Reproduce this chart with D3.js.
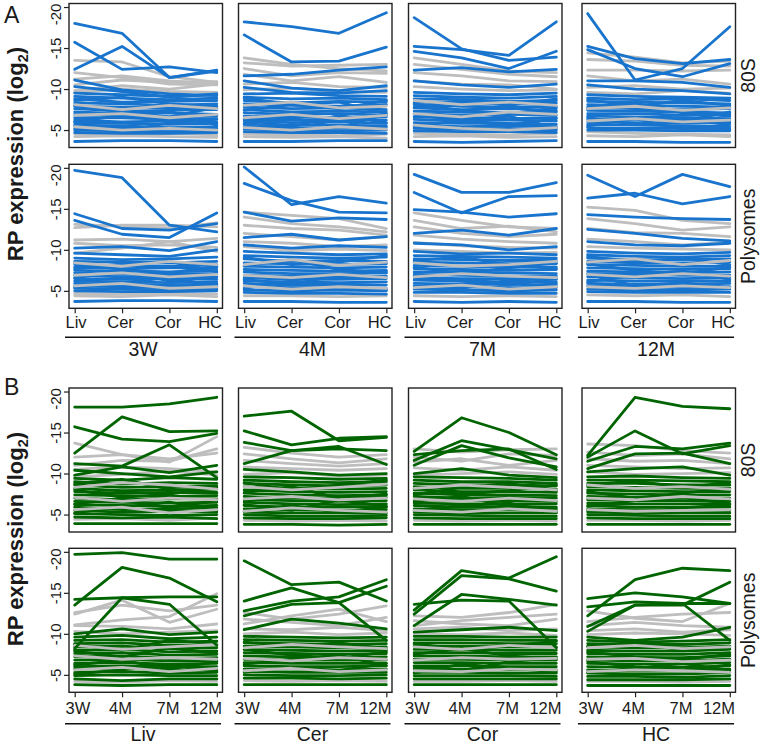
<!DOCTYPE html>
<html><head><meta charset="utf-8">
<script src="https://cdn.jsdelivr.net/npm/d3@7"></script>
<style>body{margin:0;background:#fff}svg{display:block}text{font-family:"Liberation Sans",Arial,sans-serif;fill:#1a1a1a}</style>
</head><body>
<script>
// ---------- categories / ticks ----------
const tissues = ["Liv","Cer","Cor","HC"];
const ages = ["3W","4M","7M","12M"];
const fractions = ["80S","Polysomes"];
const yTicks = [-20,-15,-10,-5];

// ---------- Panel A (x = tissue, one panel per age) ----------
const A_80S_3W_blue = [
[-18.0,-16.8,-11.4,-12.2],[-15.7,-12.4,-12.7,-12.0],[-12.4,-15.2,-11.4,-12.3],[-11.1,-9.9,-9.4,-9.2],[-10.3,-9.7,-9.0,-9.4],
[-9.5,-9.3,-9.1,-9.3],[-9.1,-8.9,-8.7,-8.9],[-8.8,-8.4,-8.5,-8.6],[-8.3,-8.2,-8.0,-8.2],[-7.9,-7.8,-7.7,-7.6],
[-7.6,-7.3,-7.4,-7.5],[-7.2,-7.0,-7.1,-6.9],[-6.9,-6.8,-6.6,-6.7],[-6.5,-6.5,-6.3,-6.4],[-6.2,-6.0,-6.1,-6.0],
[-5.9,-5.8,-5.7,-5.8],[-5.6,-5.5,-5.3,-5.4],[-5.2,-5.3,-5.1,-5.2],[-5.0,-4.9,-4.8,-4.9],[-4.7,-4.6,-4.6,-4.7],[-3.6,-3.7,-3.7,-3.6],
[-8.0,-7.2,-6.6,-7.8],[-6.0,-6.8,-7.3,-5.6],[-5.5,-4.8,-5.9,-6.3],[-8.6,-9.0,-8.2,-7.9]];
const A_80S_3W_gray = [
[-13.5,-13.3,-11.5,-10.8],[-12.0,-11.4,-10.6,-10.5],[-11.2,-11.6,-11.0,-10.7],[-10.5,-11.1,-10.8,-10.9],[-9.8,-10.4,-10.0,-10.6],
[-9.6,-10.0,-9.7,-9.6],[-8.1,-7.5,-8.0,-7.6],[-6.8,-7.0,-6.5,-6.9],[-5.4,-5.0,-5.2,-5.0],[-4.5,-4.4,-4.6,-4.4],[-4.2,-4.3,-4.2,-4.1]];

const A_80S_4M_blue = [
[-18.2,-17.6,-16.8,-19.3],[-16.6,-13.3,-13.4,-15.1],[-11.6,-11.8,-12.3,-12.7],[-11.0,-10.1,-9.8,-10.4],[-10.2,-9.6,-9.5,-9.8],
[-9.4,-9.5,-9.2,-9.1],[-9.0,-8.8,-8.9,-8.7],[-8.6,-8.3,-8.5,-8.4],[-8.2,-8.0,-7.9,-8.1],[-7.8,-7.6,-7.7,-7.5],
[-7.5,-7.2,-7.3,-7.2],[-7.1,-6.9,-7.0,-6.8],[-6.7,-6.6,-6.5,-6.6],[-6.4,-6.2,-6.3,-6.2],[-6.1,-5.9,-6.0,-5.8],
[-5.7,-5.6,-5.6,-5.5],[-5.4,-5.3,-5.2,-5.3],[-5.1,-5.0,-4.9,-5.0],[-4.8,-4.7,-4.7,-4.6],[-3.6,-3.6,-3.7,-3.7],
[-7.4,-8.1,-8.4,-7.0],[-5.8,-6.5,-5.3,-6.9],[-8.9,-8.1,-7.6,-8.6],[-6.3,-5.4,-6.8,-5.9]];
const A_80S_4M_gray = [
[-13.8,-13.0,-12.5,-12.2],[-13.2,-12.8,-12.9,-13.0],[-12.5,-11.6,-12.0,-11.9],[-11.8,-11.0,-11.5,-10.8],[-10.6,-10.8,-10.3,-10.2],
[-9.9,-10.1,-9.7,-9.6],[-8.0,-8.4,-7.7,-7.9],[-6.5,-6.9,-6.4,-6.8],[-5.3,-5.0,-5.4,-5.1],[-4.5,-4.4,-4.3,-4.5],[-4.2,-4.1,-4.2,-4.0]];

const A_80S_7M_blue = [
[-18.7,-14.9,-13.5,-13.9],[-15.2,-14.8,-14.1,-18.2],[-14.6,-13.8,-12.5,-14.6],[-12.3,-12.6,-12.1,-12.4],[-11.0,-10.5,-10.2,-10.6],
[-9.6,-9.4,-9.3,-9.5],[-9.2,-9.0,-8.9,-9.1],[-8.8,-8.7,-8.5,-8.6],[-8.4,-8.3,-8.2,-8.3],[-8.1,-7.9,-7.8,-7.9],
[-7.7,-7.5,-7.6,-7.4],[-7.3,-7.2,-7.1,-7.2],[-7.0,-6.8,-6.9,-6.8],[-6.6,-6.5,-6.4,-6.5],[-6.3,-6.1,-6.2,-6.1],
[-5.9,-5.8,-5.8,-5.7],[-5.6,-5.4,-5.5,-5.4],[-5.2,-5.1,-5.2,-5.0],[-4.9,-4.8,-4.8,-4.7],[-3.6,-3.5,-3.6,-3.7],
[-8.2,-7.4,-7.0,-7.7],[-6.9,-6.1,-5.6,-6.4],[-5.4,-6.2,-6.7,-5.2],[-7.8,-8.6,-8.0,-8.8]];
const A_80S_7M_gray = [
[-13.8,-13.0,-12.2,-12.0],[-13.0,-12.4,-11.8,-11.5],[-12.0,-11.6,-11.0,-10.9],[-11.0,-10.6,-10.5,-10.0],[-10.3,-10.0,-9.8,-9.9],
[-8.6,-8.1,-8.4,-8.0],[-7.0,-6.6,-7.2,-6.9],[-5.6,-5.2,-5.0,-5.3],[-4.6,-4.5,-4.4,-4.6],[-4.2,-4.3,-4.1,-4.2]];

const A_80S_12M_blue = [
[-19.2,-11.1,-12.5,-17.6],[-15.2,-13.7,-13.1,-13.6],[-14.8,-12.5,-11.5,-13.1],[-11.0,-11.0,-10.8,-10.2],[-10.5,-10.0,-9.8,-9.4],
[-9.3,-9.1,-9.0,-8.9],[-8.9,-8.7,-8.8,-8.6],[-8.5,-8.4,-8.3,-8.2],[-8.1,-8.0,-7.9,-7.8],[-7.8,-7.6,-7.5,-7.6],
[-7.4,-7.3,-7.2,-7.1],[-7.0,-7.0,-6.8,-6.9],[-6.7,-6.6,-6.5,-6.4],[-6.3,-6.3,-6.2,-6.1],[-6.0,-5.9,-5.8,-5.9],
[-5.7,-5.6,-5.5,-5.4],[-5.3,-5.2,-5.2,-5.1],[-5.0,-5.0,-4.9,-4.9],[-3.6,-3.6,-3.5,-3.5],
[-7.6,-8.3,-7.1,-6.7],[-6.5,-5.7,-6.1,-7.2],[-8.7,-7.9,-8.6,-8.0],[-5.5,-6.4,-5.1,-5.7]];
const A_80S_12M_gray = [
[-14.4,-13.9,-13.2,-13.4],[-13.6,-13.4,-12.9,-12.8],[-12.3,-12.3,-12.2,-12.3],[-11.6,-11.0,-11.2,-10.6],[-10.2,-10.4,-10.0,-10.1],
[-9.6,-9.4,-9.8,-9.5],[-7.6,-7.9,-7.4,-7.7],[-6.1,-6.4,-6.0,-6.2],[-4.8,-4.6,-4.5,-4.4],[-4.3,-4.2,-4.4,-4.2]];

const A_Poly_3W_blue = [
[-19.7,-18.8,-13.0,-12.2],[-14.4,-12.6,-12.4,-13.2],[-13.6,-11.9,-11.5,-14.5],[-10.2,-10.4,-9.9,-11.0],[-9.6,-9.4,-9.2,-10.0],
[-9.0,-8.8,-8.9,-9.1],[-8.6,-8.5,-8.4,-8.6],[-8.2,-8.1,-8.0,-8.2],[-7.9,-7.7,-7.8,-7.8],[-7.5,-7.4,-7.3,-7.5],
[-7.2,-7.0,-7.1,-7.1],[-6.9,-6.7,-6.8,-6.7],[-6.5,-6.4,-6.5,-6.4],[-6.2,-6.1,-6.0,-6.1],[-5.9,-5.8,-5.7,-5.8],
[-5.6,-5.5,-5.4,-5.5],[-5.3,-5.2,-5.1,-5.2],[-5.0,-4.9,-4.9,-5.0],[-3.7,-3.8,-3.8,-3.7],
[-8.4,-7.6,-7.2,-8.0],[-6.6,-7.3,-6.2,-5.9],[-5.4,-6.0,-6.6,-5.6],[-7.7,-8.3,-8.6,-7.3]];
const A_Poly_3W_gray = [
[-12.7,-13.0,-13.0,-12.8],[-13.1,-12.9,-12.6,-13.3],[-11.2,-11.3,-11.0,-11.4],[-10.8,-10.5,-10.6,-10.3],[-9.6,-10.2,-11.0,-9.8],
[-8.4,-8.0,-8.6,-8.2],[-6.9,-7.2,-6.7,-7.0],[-5.6,-5.9,-5.3,-5.5],[-4.7,-4.6,-4.7,-4.6],[-4.4,-4.3,-4.5,-4.3]];

const A_Poly_4M_blue = [
[-20.1,-15.5,-16.5,-15.7],[-18.1,-16.0,-14.6,-14.5],[-14.6,-13.5,-13.9,-13.7],[-11.5,-11.9,-11.2,-11.6],[-10.6,-10.2,-10.5,-10.3],
[-9.8,-9.6,-9.4,-9.5],[-9.3,-9.1,-9.0,-9.1],[-8.9,-8.6,-8.7,-8.6],[-8.4,-8.3,-8.2,-8.3],[-8.0,-7.9,-7.8,-7.9],
[-7.6,-7.5,-7.4,-7.5],[-7.3,-7.1,-7.1,-7.2],[-6.9,-6.8,-6.7,-6.8],[-6.6,-6.4,-6.4,-6.5],[-6.2,-6.1,-6.0,-6.1],
[-5.9,-5.7,-5.8,-5.7],[-5.5,-5.4,-5.4,-5.3],[-5.1,-5.0,-5.1,-5.0],[-4.8,-4.7,-4.7,-4.6],[-3.7,-3.7,-3.6,-3.6],
[-8.1,-8.8,-7.6,-7.2],[-6.4,-5.8,-6.9,-7.4],[-9.1,-8.2,-8.5,-9.3],[-5.3,-6.2,-5.6,-5.1]];
const A_Poly_4M_gray = [
[-14.6,-14.2,-13.8,-12.6],[-14.0,-13.2,-12.8,-12.2],[-13.0,-12.6,-12.4,-11.8],[-12.0,-11.6,-11.2,-11.6],[-11.0,-10.8,-10.4,-10.6],
[-10.4,-9.9,-10.1,-9.9],[-8.2,-8.8,-8.1,-8.5],[-6.9,-6.6,-7.0,-6.6],[-5.6,-5.2,-5.5,-5.3],[-4.4,-4.4,-4.3,-4.4]];

const A_Poly_7M_blue = [
[-19.2,-17.0,-17.0,-18.2],[-17.0,-14.5,-16.5,-16.6],[-14.9,-14.6,-14.0,-14.4],[-12.0,-12.4,-11.8,-12.6],[-10.8,-10.6,-10.0,-10.4],
[-9.8,-9.5,-9.6,-9.4],[-9.3,-9.2,-9.1,-9.0],[-8.9,-8.8,-8.7,-8.7],[-8.5,-8.4,-8.3,-8.3],[-8.1,-8.0,-7.9,-7.9],
[-7.7,-7.6,-7.5,-7.6],[-7.3,-7.3,-7.2,-7.1],[-7.0,-6.9,-6.8,-6.8],[-6.6,-6.5,-6.5,-6.4],[-6.3,-6.2,-6.1,-6.1],
[-5.9,-5.8,-5.8,-5.7],[-5.5,-5.5,-5.4,-5.4],[-5.2,-5.1,-5.0,-5.1],[-4.8,-4.8,-4.7,-4.7],[-3.7,-3.6,-3.7,-3.6],
[-7.9,-7.1,-7.8,-8.4],[-6.8,-6.2,-5.7,-6.5],[-8.7,-9.1,-8.2,-7.7],[-5.6,-5.3,-6.3,-5.9]];
const A_Poly_7M_gray = [
[-14.5,-13.6,-12.8,-12.6],[-13.6,-12.6,-12.9,-12.2],[-12.8,-12.0,-11.6,-11.9],[-11.8,-11.3,-11.0,-10.8],[-10.9,-10.5,-10.3,-10.2],
[-10.0,-9.8,-9.6,-9.7],[-8.4,-8.0,-8.2,-8.6],[-6.7,-7.1,-6.8,-6.6],[-5.4,-5.7,-5.2,-5.5],[-4.4,-4.3,-4.4,-4.3]];

const A_Poly_12M_blue = [
[-19.1,-16.5,-19.2,-17.7],[-16.3,-16.9,-15.6,-16.5],[-14.3,-14.0,-13.8,-13.7],[-12.5,-12.0,-11.4,-11.1],[-11.0,-10.6,-10.5,-10.8],
[-9.8,-9.6,-9.5,-9.7],[-9.4,-9.2,-9.1,-9.3],[-9.0,-8.8,-8.8,-8.9],[-8.6,-8.4,-8.4,-8.5],[-8.2,-8.1,-8.0,-8.0],
[-7.8,-7.7,-7.6,-7.7],[-7.4,-7.3,-7.2,-7.3],[-7.1,-7.0,-6.9,-6.9],[-6.7,-6.6,-6.5,-6.6],[-6.3,-6.2,-6.2,-6.2],
[-5.9,-5.8,-5.8,-5.9],[-5.6,-5.5,-5.4,-5.5],[-5.2,-5.1,-5.1,-5.2],[-4.9,-4.8,-4.8,-4.8],[-3.7,-3.7,-3.6,-3.6],
[-8.3,-7.5,-7.1,-7.9],[-6.1,-6.9,-7.4,-6.4],[-7.0,-5.6,-6.0,-5.4],[-9.2,-8.5,-9.0,-8.2]];
const A_Poly_12M_gray = [
[-15.2,-14.8,-13.6,-13.2],[-13.8,-13.2,-12.4,-12.8],[-12.6,-12.1,-12.0,-11.6],[-11.3,-11.0,-10.6,-10.9],[-10.4,-10.2,-10.1,-10.0],
[-8.5,-8.9,-8.2,-8.7],[-7.0,-6.7,-7.1,-6.8],[-5.5,-5.3,-5.6,-5.4],[-4.5,-4.4,-4.5,-4.3]];

// ---------- Panel B (x = age, one panel per tissue) ----------
const B_80S_Liv_green = [
[-18.1,-18.1,-18.5,-19.3],[-15.7,-14.2,-13.9,-14.9],[-12.5,-16.9,-15.1,-15.2],[-11.2,-10.9,-13.5,-9.5],[-9.8,-10.8,-10.1,-11.0],
[-10.4,-10.0,-9.6,-10.2],[-9.4,-9.2,-9.5,-9.3],[-9.0,-8.7,-8.9,-8.8],[-8.6,-8.3,-8.4,-8.5],[-8.2,-7.9,-8.0,-8.1],
[-7.8,-7.6,-7.7,-7.6],[-7.4,-7.3,-7.2,-7.3],[-7.0,-6.8,-6.9,-6.9],[-6.6,-6.5,-6.4,-6.5],[-6.2,-6.1,-6.0,-6.1],
[-5.9,-5.6,-5.7,-5.8],[-5.5,-5.3,-5.4,-5.3],[-5.1,-5.0,-4.9,-5.0],[-4.7,-4.6,-4.7,-4.5],[-3.9,-3.9,-3.9,-3.9],
[-8.0,-7.1,-7.5,-8.3],[-6.3,-6.9,-5.8,-6.7],[-5.2,-5.9,-6.5,-5.5],[-8.8,-9.3,-8.1,-7.7]];
const B_80S_Liv_gray = [
[-13.7,-12.3,-11.4,-14.5],[-12.0,-12.3,-11.8,-12.5],[-11.0,-11.6,-11.5,-13.0],[-10.5,-10.8,-10.6,-10.2],[-9.6,-9.9,-10.3,-9.8],
[-8.3,-8.9,-8.6,-8.1],[-7.1,-6.6,-7.0,-6.8],[-5.6,-5.9,-5.2,-5.6],[-4.4,-4.5,-4.3,-4.6]];

const B_80S_Cer_green = [
[-17.0,-17.6,-14.0,-14.4],[-15.2,-13.5,-14.3,-14.5],[-13.8,-12.8,-13.0,-12.8],[-11.2,-12.8,-13.3,-11.1],[-10.5,-10.2,-9.8,-10.0],
[-9.6,-9.5,-9.3,-9.4],[-9.2,-9.0,-8.9,-9.0],[-8.8,-8.6,-8.5,-8.6],[-8.4,-8.2,-8.1,-8.2],[-8.0,-7.8,-7.7,-7.8],
[-7.6,-7.4,-7.3,-7.4],[-7.2,-7.0,-7.0,-7.1],[-6.8,-6.7,-6.6,-6.7],[-6.5,-6.3,-6.2,-6.3],[-6.1,-5.9,-5.9,-6.0],
[-5.7,-5.6,-5.5,-5.6],[-5.3,-5.2,-5.2,-5.2],[-5.0,-4.8,-4.8,-4.9],[-4.6,-4.5,-4.5,-4.6],[-3.8,-3.8,-3.7,-3.8],
[-7.7,-8.4,-7.0,-7.5],[-6.2,-5.5,-6.8,-6.0],[-8.9,-8.0,-8.6,-9.2],[-5.4,-6.1,-5.3,-5.9]];
const B_80S_Cer_gray = [
[-13.2,-12.5,-12.0,-12.3],[-12.4,-11.8,-11.3,-11.8],[-11.6,-11.2,-10.9,-11.2],[-10.8,-10.6,-10.4,-10.6],[-9.9,-10.1,-9.7,-9.8],
[-8.4,-8.0,-8.3,-8.7],[-6.9,-7.2,-6.8,-7.0],[-5.4,-5.8,-5.5,-5.3],[-4.3,-4.2,-4.3,-4.2]];

const B_80S_Cor_green = [
[-12.7,-16.8,-15.0,-12.3],[-11.6,-14.0,-12.9,-11.8],[-11.0,-13.4,-11.9,-10.8],[-12.3,-12.8,-13.0,-10.5],[-10.0,-10.6,-9.8,-9.5],
[-9.6,-9.5,-9.4,-9.2],[-9.2,-9.0,-9.0,-8.8],[-8.8,-8.6,-8.6,-8.5],[-8.4,-8.2,-8.2,-8.1],[-8.0,-7.8,-7.8,-7.7],
[-7.6,-7.4,-7.4,-7.3],[-7.2,-7.0,-7.1,-7.0],[-6.8,-6.7,-6.7,-6.6],[-6.4,-6.3,-6.3,-6.3],[-6.1,-5.9,-6.0,-5.9],
[-5.7,-5.6,-5.6,-5.5],[-5.3,-5.2,-5.2,-5.2],[-5.0,-4.9,-4.8,-4.8],[-4.6,-4.5,-4.5,-4.5],[-3.8,-3.8,-3.8,-3.8],
[-8.2,-7.5,-7.9,-8.6],[-6.6,-7.2,-6.0,-5.7],[-5.5,-6.1,-6.4,-5.3],[-7.4,-8.3,-8.8,-7.9]];
const B_80S_Cor_gray = [
[-13.0,-12.6,-12.9,-13.0],[-12.0,-11.5,-12.4,-12.2],[-11.4,-11.8,-11.0,-11.6],[-10.7,-10.4,-10.8,-10.4],[-9.8,-10.0,-10.2,-9.9],
[-8.2,-8.6,-8.3,-8.0],[-6.9,-6.6,-7.0,-6.7],[-5.5,-5.3,-5.7,-5.4],[-4.3,-4.2,-4.3,-4.2]];

const B_80S_HC_green = [
[-12.2,-19.3,-18.2,-17.9],[-12.0,-15.2,-12.4,-13.4],[-11.5,-13.3,-13.0,-13.7],[-10.6,-12.4,-12.5,-11.2],[-10.2,-10.6,-10.8,-9.8],
[-9.6,-9.7,-9.5,-9.4],[-9.2,-9.2,-9.1,-9.0],[-8.8,-8.8,-8.6,-8.6],[-8.4,-8.3,-8.2,-8.2],[-8.0,-7.9,-7.8,-7.8],
[-7.6,-7.5,-7.4,-7.4],[-7.2,-7.1,-7.0,-7.0],[-6.8,-6.7,-6.7,-6.6],[-6.4,-6.3,-6.3,-6.3],[-6.1,-5.9,-5.9,-5.9],
[-5.7,-5.6,-5.6,-5.5],[-5.3,-5.2,-5.2,-5.2],[-5.0,-4.9,-4.8,-4.8],[-4.6,-4.5,-4.5,-4.5],[-3.8,-3.8,-3.8,-3.8],
[-7.8,-7.0,-7.6,-8.2],[-6.0,-6.7,-7.1,-6.3],[-8.6,-9.1,-8.3,-8.9],[-5.5,-5.1,-5.8,-6.2]];
const B_80S_HC_gray = [
[-13.6,-13.4,-12.8,-12.5],[-12.6,-12.2,-12.4,-11.8],[-11.8,-11.5,-11.6,-11.2],[-11.0,-10.8,-10.6,-10.7],[-10.2,-9.9,-10.0,-10.1],
[-8.6,-8.2,-8.4,-8.1],[-7.0,-6.8,-7.2,-6.9],[-5.6,-5.4,-5.5,-5.6],[-4.3,-4.3,-4.2,-4.3]];

const B_Poly_Liv_green = [
[-19.7,-19.9,-19.1,-19.1],[-13.5,-18.1,-16.8,-13.9],[-14.2,-14.4,-14.5,-14.5],[-8.2,-14.4,-13.6,-8.6],[-10.0,-10.6,-9.9,-10.2],
[-9.6,-9.8,-9.4,-9.6],[-9.2,-9.3,-9.0,-9.1],[-8.8,-8.9,-8.6,-8.7],[-8.4,-8.5,-8.2,-8.3],[-8.0,-8.1,-7.8,-7.9],
[-7.6,-7.7,-7.4,-7.5],[-7.2,-7.3,-7.0,-7.1],[-6.8,-6.9,-6.7,-6.7],[-6.4,-6.5,-6.3,-6.4],[-6.0,-6.1,-6.0,-6.0],
[-5.7,-5.8,-5.6,-5.6],[-5.3,-5.4,-5.2,-5.3],[-4.9,-5.0,-4.9,-4.9],[-4.5,-4.3,-4.5,-4.5],[-3.8,-3.7,-3.8,-3.8],
[-7.9,-7.2,-8.3,-7.6],[-6.2,-6.8,-5.7,-6.6],[-5.1,-5.6,-6.2,-5.4],[-8.7,-8.0,-9.2,-8.8]];
const B_Poly_Liv_gray = [
[-12.4,-14.1,-11.4,-13.0],[-11.1,-11.7,-12.1,-14.9],[-12.6,-13.5,-12.8,-13.5],[-11.0,-10.9,-10.6,-11.2],[-10.3,-10.0,-10.2,-10.4],
[-8.6,-8.1,-8.4,-8.7],[-7.3,-6.9,-7.1,-6.9],[-5.6,-5.9,-5.4,-5.8],[-4.2,-4.1,-4.3,-4.2]];

const B_Poly_Cer_green = [
[-18.9,-16.0,-16.3,-14.0],[-12.8,-14.0,-14.5,-16.6],[-14.0,-15.6,-13.8,-15.8],[-12.2,-13.6,-13.8,-9.2],[-10.5,-11.8,-11.3,-10.6],
[-9.7,-9.6,-9.5,-9.6],[-9.3,-9.2,-9.1,-9.2],[-8.9,-8.8,-8.7,-8.8],[-8.5,-8.4,-8.3,-8.4],[-8.1,-8.0,-7.9,-8.0],
[-7.7,-7.6,-7.5,-7.6],[-7.3,-7.2,-7.1,-7.2],[-6.9,-6.8,-6.8,-6.8],[-6.5,-6.4,-6.4,-6.4],[-6.1,-6.0,-6.0,-6.1],
[-5.7,-5.7,-5.6,-5.7],[-5.4,-5.3,-5.3,-5.3],[-5.0,-4.9,-4.9,-5.0],[-4.6,-4.6,-4.5,-4.6],[-3.8,-3.8,-3.8,-3.8],
[-8.1,-7.4,-7.0,-7.8],[-6.3,-6.9,-7.4,-6.1],[-5.3,-5.9,-5.5,-6.4],[-9.0,-8.5,-8.9,-8.2]];
const B_Poly_Cer_gray = [
[-12.6,-11.8,-12.4,-13.4],[-11.2,-12.2,-13.0,-11.5],[-11.8,-11.4,-11.0,-12.0],[-10.6,-10.5,-10.8,-10.4],[-10.0,-10.2,-9.9,-10.1],
[-8.3,-8.7,-8.4,-8.2],[-7.0,-6.7,-7.1,-6.9],[-5.5,-5.8,-5.4,-5.6],[-4.3,-4.2,-4.3,-4.2]];

const B_Poly_Cor_green = [
[-12.9,-17.7,-16.8,-19.4],[-12.4,-17.1,-16.7,-15.2],[-13.6,-14.1,-14.0,-8.3],[-11.0,-14.8,-14.2,-13.5],[-10.2,-10.5,-10.8,-10.4],
[-9.7,-9.7,-9.6,-9.6],[-9.3,-9.3,-9.2,-9.2],[-8.9,-8.9,-8.8,-8.8],[-8.5,-8.5,-8.4,-8.4],[-8.1,-8.1,-8.0,-8.0],
[-7.7,-7.7,-7.6,-7.6],[-7.3,-7.3,-7.2,-7.2],[-6.9,-6.9,-6.8,-6.8],[-6.5,-6.5,-6.4,-6.4],[-6.1,-6.1,-6.0,-6.0],
[-5.7,-5.7,-5.6,-5.6],[-5.3,-5.3,-5.2,-5.2],[-4.9,-4.9,-4.9,-4.8],[-4.5,-4.5,-4.5,-4.5],[-3.8,-3.8,-3.8,-3.8],
[-7.5,-8.2,-7.3,-6.9],[-6.0,-5.5,-6.6,-7.1],[-8.8,-8.1,-8.5,-9.1],[-5.2,-6.3,-5.8,-5.4]];
const B_Poly_Cor_gray = [
[-12.2,-12.0,-12.6,-13.6],[-11.0,-11.6,-12.0,-12.4],[-11.6,-11.2,-11.0,-11.8],[-10.6,-10.8,-10.4,-10.6],[-10.0,-9.9,-10.1,-9.8],
[-8.4,-8.1,-8.6,-8.3],[-6.8,-7.1,-6.9,-7.0],[-5.5,-5.4,-5.7,-5.6],[-4.2,-4.2,-4.3,-4.2]];

const B_Poly_HC_green = [
[-14.3,-15.0,-14.5,-13.7],[-13.3,-13.9,-13.7,-13.7],[-12.2,-16.6,-18.0,-17.7],[-10.9,-13.5,-13.5,-16.3],[-10.3,-13.5,-13.7,-9.2],
[-9.6,-9.2,-9.6,-10.8],[-9.2,-9.0,-9.1,-9.3],[-8.8,-8.7,-8.7,-8.9],[-8.4,-8.3,-8.3,-8.5],[-8.0,-7.9,-7.9,-8.1],
[-7.6,-7.5,-7.5,-7.7],[-7.2,-7.1,-7.1,-7.3],[-6.8,-6.7,-6.7,-6.9],[-6.4,-6.3,-6.3,-6.5],[-6.0,-5.9,-5.9,-6.1],
[-5.6,-5.5,-5.5,-5.7],[-5.2,-5.1,-5.1,-5.3],[-4.8,-4.8,-4.7,-4.9],[-4.4,-4.4,-4.4,-4.5],[-3.7,-3.7,-3.7,-3.7],
[-7.8,-7.2,-6.9,-7.5],[-6.6,-6.0,-5.6,-6.2],[-8.5,-8.9,-8.0,-8.3],[-5.3,-5.8,-6.4,-5.5]];
const B_Poly_HC_gray = [
[-12.8,-11.9,-11.5,-13.7],[-11.5,-12.0,-12.4,-12.6],[-11.0,-11.4,-11.0,-10.8],[-10.4,-10.6,-10.2,-10.5],[-9.9,-10.1,-10.0,-9.8],
[-8.3,-8.6,-8.2,-8.4],[-6.9,-7.0,-6.6,-6.8],[-5.4,-5.6,-5.5,-5.3],[-4.2,-4.2,-4.1,-4.2]];

// ---------- layout ----------
const WIDTH = 762, HEIGHT = 745;
const PW = 153.5, PH = 144;
const colX = [69, 238.5, 408.5, 582];
const rowY = [3.5, 164.3, 388, 548.3];
const BLUE = "#1874CD", GREEN = "#006400", GREY = "#BEBEBE";
const yDomain = [-2.87, -20.43];
const LW = 2.8;

const svg = d3.select("body").append("svg").attr("width", WIDTH).attr("height", HEIGHT);

const sectionA = {
  color: BLUE, xcats: tissues, strips: ages, rows: [0,1], titleY: 154,
  data: [
    [[A_80S_3W_blue,A_80S_3W_gray],[A_80S_4M_blue,A_80S_4M_gray],[A_80S_7M_blue,A_80S_7M_gray],[A_80S_12M_blue,A_80S_12M_gray]],
    [[A_Poly_3W_blue,A_Poly_3W_gray],[A_Poly_4M_blue,A_Poly_4M_gray],[A_Poly_7M_blue,A_Poly_7M_gray],[A_Poly_12M_blue,A_Poly_12M_gray]]
  ], tickOff: 19.5, lineOff: 29, stripOff: 48
};
const sectionB = {
  color: GREEN, xcats: ages, strips: tissues, rows: [2,3], titleY: 539,
  data: [
    [[B_80S_Liv_green,B_80S_Liv_gray],[B_80S_Cer_green,B_80S_Cer_gray],[B_80S_Cor_green,B_80S_Cor_gray],[B_80S_HC_green,B_80S_HC_gray]],
    [[B_Poly_Liv_green,B_Poly_Liv_gray],[B_Poly_Cer_green,B_Poly_Cer_gray],[B_Poly_Cor_green,B_Poly_Cor_gray],[B_Poly_HC_green,B_Poly_HC_gray]]
  ], tickOff: 22, lineOff: 31.5, stripOff: 48.8
};

function drawSection(sec) {
  sec.rows.forEach((ri, r) => {
    const y0 = rowY[ri];
    const y = d3.scaleLinear().domain(yDomain).range([y0 + PH, y0]);
    colX.forEach((x0, c) => {
      const x = d3.scalePoint().domain(sec.xcats).range([x0, x0 + PW]).padding(0.12);
      const [colored, grey] = sec.data[r][c];
      const line = d3.line().x((d, i) => x(sec.xcats[i])).y(d => y(d));
      const inBand = d => { const m = d3.mean(d); return m > -9.0 && m < -5.0; };
      const g = svg.append("g");
      g.append("defs").append("clipPath").attr("id", `clip${ri}_${c}`)
        .append("rect").attr("x", x0).attr("y", y0).attr("width", PW).attr("height", PH);
      const lg = g.append("g").attr("clip-path", `url(#clip${ri}_${c})`);
      const drawLines = (arr, col) => arr.forEach(d => lg.append("path").attr("d", line(d))
        .attr("fill", "none").attr("stroke", col).attr("stroke-width", LW)
        .attr("stroke-linejoin", "round").attr("stroke-linecap", "round"));
      drawLines(grey.filter(d => !inBand(d)), GREY);
      drawLines(colored.slice(5).reverse(), sec.color);
      drawLines(grey.filter(inBand), GREY);
      drawLines(colored.slice(0, 5).reverse(), sec.color);
      g.append("rect").attr("x", x0).attr("y", y0).attr("width", PW).attr("height", PH)
        .attr("fill", "none").attr("stroke", "#222").attr("stroke-width", 1.4);
      if (c === 0) {
        const ax = g.append("g").attr("transform", `translate(${x0},0)`)
          .call(d3.axisLeft(y).tickValues(yTicks).tickSize(5));
        ax.select(".domain").remove();
        ax.selectAll(".tick line").attr("stroke", "#222").attr("stroke-width", 1.2);
        ax.selectAll(".tick text").attr("transform", "rotate(-90)")
          .attr("x", d => -Math.max(0, (y0 + 10.5) - y(d)))
          .attr("y", -8.5).attr("dy", 0).attr("text-anchor", "middle").style("font-size", "15px")
          .style("font-family", '"Liberation Sans",Arial,sans-serif').attr("fill", "#1a1a1a")
          .text(d => String(d));
      }
      if (r === 1) {
        const ax = g.append("g").attr("transform", `translate(0,${y0 + PH})`)
          .call(d3.axisBottom(x).tickSize(5).tickFormat(""));
        ax.select(".domain").remove();
        ax.selectAll(".tick line").attr("stroke", "#222").attr("stroke-width", 1.2);
        sec.xcats.forEach((lab, i) => {
          const t = g.append("text").attr("y", y0 + PH + sec.tickOff).style("font-size", "16.5px").text(lab);
          if (i === 0) t.attr("x", x0 - 3.5).attr("text-anchor", "start");
          else if (i === sec.xcats.length - 1) t.attr("x", x0 + PW - 0.5).attr("text-anchor", "end");
          else t.attr("x", x(lab) - 1.5).attr("text-anchor", "middle");
        });
        g.append("line").attr("x1", x0 - 4).attr("x2", x0 + 152).attr("y1", y0 + PH + sec.lineOff).attr("y2", y0 + PH + sec.lineOff)
          .attr("stroke", "#111").attr("stroke-width", 1.5);
        g.append("text").attr("x", x0 + 74).attr("y", y0 + PH + sec.stripOff).attr("text-anchor", "middle")
          .style("font-size", "19.5px").text(sec.strips[c]);
      }
    });
    svg.append("text").attr("transform", `translate(755,${y0 + PH / 2}) rotate(-90)`).attr("text-anchor", "middle")
      .style("font-size", "19.5px").text(fractions[r]);
  });
  const t = svg.append("text").attr("transform", `translate(23,${sec.titleY}) rotate(-90)`).attr("text-anchor", "middle")
    .style("font-size", "22px").style("font-weight", "bold");
  t.append("tspan").text("RP expression (log");
  t.append("tspan").text("2").style("font-size", "14.5px").attr("dy", 5);
  t.append("tspan").text(")").attr("dy", -5);
}
drawSection(sectionA);
drawSection(sectionB);
svg.append("text").attr("x", 4).attr("y", 23).style("font-size", "23px").text("A");
svg.append("text").attr("x", 4).attr("y", 395).style("font-size", "23px").text("B");
</script>
</body></html>
